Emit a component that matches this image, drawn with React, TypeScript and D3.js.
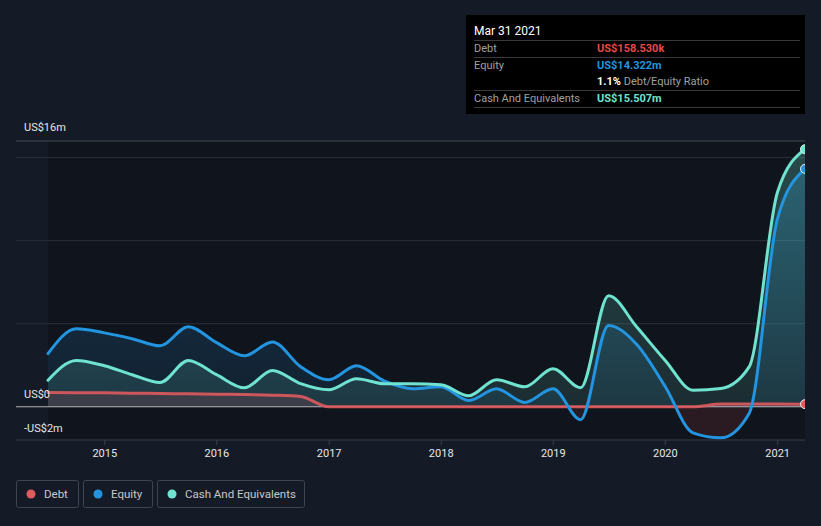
import React from 'react';
import * as d3 from 'd3';

// quarter-end balance sheet values, US$ millions
const dates = [
  '2014-06-30', '2014-09-30', '2014-12-31', '2015-03-31', '2015-06-30', '2015-09-30', '2015-12-31',
  '2016-03-31', '2016-06-30', '2016-09-30', '2016-12-31', '2017-03-31', '2017-06-30', '2017-09-30',
  '2017-12-31', '2018-03-31', '2018-06-30', '2018-09-30', '2018-12-31', '2019-03-31', '2019-06-30',
  '2019-09-30', '2019-12-31', '2020-03-31', '2020-06-30', '2020-09-30', '2020-12-31', '2021-03-31',
];
const debt = [
  0.86, 0.85, 0.84, 0.82, 0.8, 0.78, 0.76, 0.74, 0.7, 0.62, 0, 0, 0, 0,
  0, 0, 0, 0, 0, 0, 0, 0, 0, 0, 0.16, 0.16, 0.16, 0.1585,
];
const equity = [
  3.2, 4.7, 4.45, 4.1, 3.67, 4.82, 3.86, 3.07, 3.9, 2.41, 1.63, 2.47, 1.55, 1.08,
  1.2, 0.38, 1.08, 0.26, 1.08, -0.78, 4.9, 3.75, 1.24, -1.57, -1.87, -0.4, 11.3, 14.322,
];
const cash = [
  1.6, 2.79, 2.47, 1.93, 1.46, 2.79, 1.93, 1.14, 2.19, 1.39, 1.02, 1.69, 1.39, 1.39,
  1.33, 0.66, 1.63, 1.2, 2.29, 1.14, 6.69, 4.8, 2.8, 1.0, 1.1, 2.4, 12.9, 15.507,
];
const gridValues = [16, 15, 10, 5];
const legendItems = ['Debt', 'Equity', 'Cash And Equivalents'];

const W = 821;
const H = 526;
const BG = '#151b26';
const PLOT_BG = '#10141c';
const DEBT_C = '#e05a5e';
const EQUITY_C = '#2394df';
const CASH_C = '#6fe3d0';
const FONT = 'Roboto, "Open Sans", sans-serif';

const App: React.FC = () => {
  const parse = d3.timeParse('%Y-%m-%d');
  const when = dates.map(d => parse(d) as Date);

  const left = 48;
  const right = 805;
  const x = d3.scaleTime().domain([when[0], when[when.length - 1]]).range([left, right]);
  const y = d3.scaleLinear().domain([-2, 16]).range([440, 141]);
  const y0 = y(0);

  const line = d3.line<number>()
    .x((_, i) => x(when[i]))
    .y(d => y(d))
    .curve(d3.curveMonotoneX);
  const area = d3.area<number>()
    .x((_, i) => x(when[i]))
    .y0(y0)
    .y1(d => y(d))
    .curve(d3.curveMonotoneX);

  const years = x.ticks(d3.timeYear.every(1));
  const fmt = d3.timeFormat('%Y');
  const last = dates.length - 1;
  const legendColors = [DEBT_C, EQUITY_C, CASH_C];
  const legendX = [16, 83, 157];
  const legendW = [62, 69, 147];

  return (
    <div style={{ position: 'absolute', left: 0, top: 0 }}>
      <svg width={W} height={H} style={{ display: 'block', background: BG, fontFamily: FONT }}>
        <defs>
          <clipPath id="plot">
            <rect x={0} y={0} width={right} height={H} />
          </clipPath>
          <clipPath id="above">
            <rect x={left} y={0} width={right - left} height={y0} />
          </clipPath>
          <clipPath id="below">
            <rect x={left} y={y0} width={right - left} height={H - y0} />
          </clipPath>
          <linearGradient id="eqGrad" gradientUnits="userSpaceOnUse" x1={0} x2={0} y1={y(16)} y2={y0}>
            <stop offset="0%" stopColor={EQUITY_C} stopOpacity={0.3} />
            <stop offset="100%" stopColor={EQUITY_C} stopOpacity={0.1} />
          </linearGradient>
          <linearGradient id="cashGrad" gradientUnits="userSpaceOnUse" x1={0} x2={0} y1={y(16)} y2={y0}>
            <stop offset="0%" stopColor={CASH_C} stopOpacity={0.26} />
            <stop offset="100%" stopColor={CASH_C} stopOpacity={0.12} />
          </linearGradient>
        </defs>

        {/* plot background */}
        <rect x={left} y={y(16)} width={right - left} height={440 - y(16)} fill={PLOT_BG} />

        {/* grid */}
        {gridValues.map((v, i) => (
          <line key={v} x1={16} x2={right} y1={y(v)} y2={y(v)}
            stroke={i === 0 ? '#454a53' : '#2a2f38'} strokeWidth={1} />
        ))}
        <line x1={16} x2={right} y1={440} y2={440} stroke="#3b4049" />
        {years.map(d => (
          <line key={+d} x1={x(d)} x2={x(d)} y1={440} y2={445} stroke="#3b4049" />
        ))}

        {/* areas */}
        <path d={area(equity) || ''} fill="url(#eqGrad)" clipPath="url(#above)" />
        <path d={area(equity) || ''} fill="rgba(230,72,72,0.12)" clipPath="url(#below)" />
        <path d={area(cash) || ''} fill="url(#cashGrad)" />
        <path d={area(debt) || ''} fill="#3b3e49" />

        <line x1={16} x2={right} y1={y0} y2={y0} stroke="#b4b4b8" strokeWidth={1} />

        {/* lines */}
        <g clipPath="url(#plot)" fill="none" strokeWidth={3} strokeLinejoin="round" strokeLinecap="round">
          <path d={line(debt) || ''} stroke={DEBT_C} strokeOpacity={0.9} />
          <path d={line(equity) || ''} stroke={EQUITY_C} />
          <path d={line(cash) || ''} stroke={CASH_C} />
          <circle cx={x(when[last])} cy={y(debt[last])} r={4.5} fill={DEBT_C} stroke="#eee" strokeWidth={1} />
          <circle cx={x(when[last])} cy={y(equity[last])} r={4.5} fill={EQUITY_C} stroke="#eee" strokeWidth={1} />
          <circle cx={x(when[last])} cy={y(cash[last])} r={4.5} fill={CASH_C} stroke="#eee" strokeWidth={1} />
        </g>

        {/* y labels */}
        <g fill="#e6e6e6" fontSize={11}>
          <text x={24} y={131}>US$16m</text>
          <text x={24} y={398}>US$0</text>
          <text x={24} y={432}>-US$2m</text>
        </g>

        {/* x labels */}
        <g fill="#e6e6e6" fontSize={11} textAnchor="middle">
          {years.map(d => (
            <text key={+d} x={x(d)} y={457}>{fmt(d)}</text>
          ))}
        </g>

        {/* tooltip */}
        <g>
          <rect x={466} y={15} width={339} height={99} fill="#000" />
          <text x={474} y={35} fill="#fff" fontSize={12}>Mar 31 2021</text>
          {[40.5, 57.5, 90.5, 107.5].map(v => (
            <line key={v} x1={474} x2={800} y1={v} y2={v} stroke="#3a3a3a" />
          ))}
          <g fontSize={11} fill="#a0a0a0">
            <text x={474} y={52}>Debt</text>
            <text x={474} y={69}>Equity</text>
            <text x={474} y={102}>Cash And Equivalents</text>
          </g>
          <g fontSize={11} fontWeight="bold">
            <text x={597} y={52} fill="#e64848">US$158.530k</text>
            <text x={597} y={69} fill={EQUITY_C}>US$14.322m</text>
            <text x={597} y={85} fill="#fff">1.1%<tspan fill="#a0a0a0" fontWeight="normal"> Debt/Equity Ratio</tspan></text>
            <text x={597} y={102} fill={CASH_C}>US$15.507m</text>
          </g>
        </g>

        {/* legend */}
        {legendItems.map((name, i) => (
          <g key={name} transform={`translate(${legendX[i]},480)`}>
            <rect x={0.5} y={0.5} width={legendW[i]} height={27} rx={2} fill="none" stroke="#3f444d" />
            <circle cx={15} cy={14} r={4.5} fill={legendColors[i]} />
            <text x={28} y={18} fill="#c8c8c8" fontSize={11.5}>{name}</text>
          </g>
        ))}
      </svg>
    </div>
  );
};

export default App;
